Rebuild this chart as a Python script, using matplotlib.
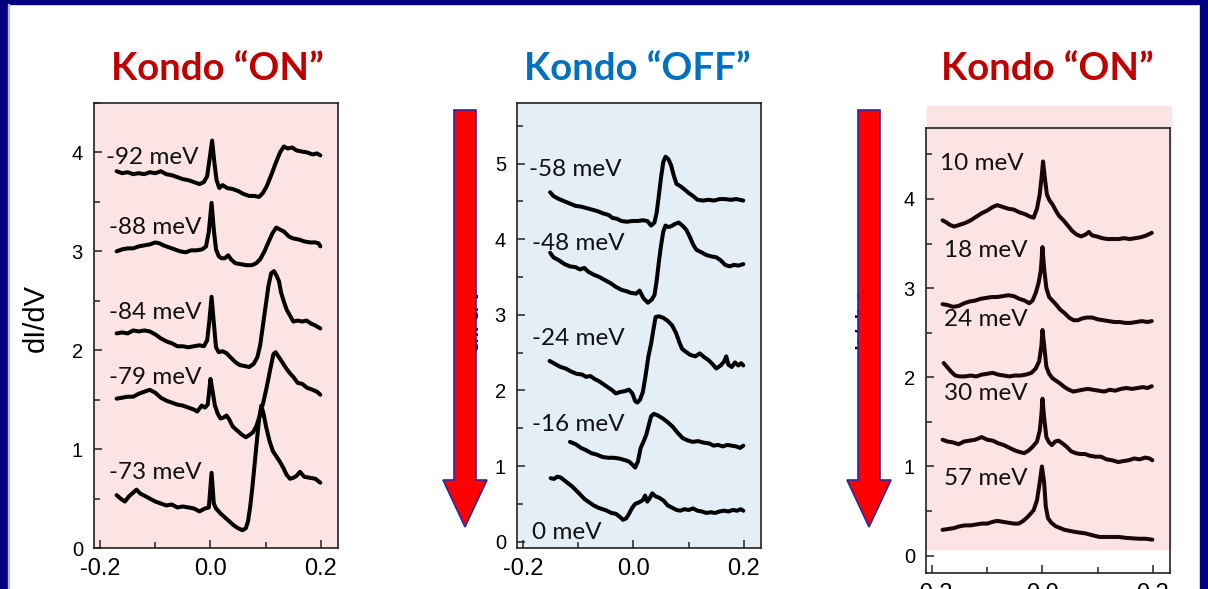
import matplotlib.pyplot as plt
from matplotlib.patches import Rectangle, Polygon

# ---- dI/dV spectra: (bias [V], dI/dV offset) ----
# left panel: Kondo "ON"
pts_m92 = [(-0.170, 3.81), (-0.160, 3.79), (-0.150, 3.80), (-0.140, 3.78), (-0.130, 3.79), (-0.120, 3.78),
           (-0.110, 3.80), (-0.100, 3.79), (-0.090, 3.81), (-0.080, 3.78), (-0.070, 3.77), (-0.060, 3.75),
           (-0.050, 3.73), (-0.040, 3.72), (-0.030, 3.70), (-0.020, 3.68), (-0.012, 3.70), (-0.006, 3.76),
           (-0.002, 3.92), (0.003, 4.12), (0.007, 3.90), (0.011, 3.72), (0.016, 3.64), (0.022, 3.67),
           (0.030, 3.64), (0.040, 3.63), (0.050, 3.61), (0.060, 3.58), (0.070, 3.56), (0.080, 3.56),
           (0.088, 3.55), (0.095, 3.59), (0.102, 3.66), (0.110, 3.77), (0.118, 3.89), (0.126, 4.00),
           (0.133, 4.06), (0.140, 4.04), (0.148, 4.05), (0.156, 4.02), (0.165, 4.01), (0.175, 4.00),
           (0.185, 3.98), (0.193, 3.99), (0.199, 3.97)]

pts_m88 = [(-0.170, 3.00), (-0.160, 3.02), (-0.150, 3.03), (-0.140, 3.03), (-0.130, 3.05), (-0.120, 3.06),
           (-0.110, 3.07), (-0.100, 3.09), (-0.092, 3.08), (-0.085, 3.06), (-0.075, 3.04), (-0.065, 3.02),
           (-0.055, 3.00), (-0.045, 2.99), (-0.035, 3.01), (-0.025, 3.01), (-0.015, 3.02), (-0.008, 3.05),
           (-0.003, 3.20), (0.002, 3.49), (0.006, 3.22), (0.010, 3.02), (0.015, 2.95), (0.020, 2.93),
           (0.026, 2.93), (0.032, 2.96), (0.037, 2.92), (0.045, 2.88), (0.055, 2.87), (0.065, 2.86),
           (0.075, 2.86), (0.083, 2.88), (0.090, 2.92), (0.097, 2.99), (0.104, 3.08), (0.112, 3.18),
           (0.119, 3.24), (0.126, 3.22), (0.133, 3.20), (0.142, 3.15), (0.150, 3.13), (0.160, 3.12),
           (0.170, 3.10), (0.180, 3.09), (0.190, 3.09), (0.196, 3.08), (0.199, 3.05)]

pts_m84 = [(-0.170, 2.17), (-0.160, 2.18), (-0.150, 2.17), (-0.140, 2.20), (-0.130, 2.19), (-0.120, 2.20),
           (-0.110, 2.19), (-0.100, 2.16), (-0.090, 2.12), (-0.080, 2.09), (-0.070, 2.07), (-0.060, 2.04),
           (-0.050, 2.04), (-0.040, 2.03), (-0.030, 2.04), (-0.020, 2.05), (-0.012, 2.04), (-0.006, 2.10),
           (-0.002, 2.30), (0.002, 2.54), (0.006, 2.28), (0.010, 2.03), (0.015, 1.98), (0.022, 1.99),
           (0.029, 1.97), (0.036, 1.93), (0.045, 1.88), (0.053, 1.85), (0.062, 1.84), (0.070, 1.83),
           (0.078, 1.86), (0.085, 1.93), (0.090, 2.05), (0.095, 2.25), (0.100, 2.45), (0.105, 2.65),
           (0.110, 2.78), (0.115, 2.80), (0.120, 2.75), (0.124, 2.70), (0.128, 2.58), (0.133, 2.49),
           (0.138, 2.41), (0.144, 2.35), (0.150, 2.29), (0.158, 2.30), (0.166, 2.29), (0.174, 2.30),
           (0.182, 2.27), (0.190, 2.25), (0.199, 2.22)]

pts_m79 = [(-0.170, 1.51), (-0.160, 1.52), (-0.150, 1.53), (-0.140, 1.53), (-0.130, 1.56), (-0.120, 1.58),
           (-0.110, 1.60), (-0.100, 1.57), (-0.090, 1.52), (-0.080, 1.49), (-0.070, 1.47), (-0.060, 1.45),
           (-0.050, 1.44), (-0.040, 1.42), (-0.030, 1.40), (-0.024, 1.38), (-0.016, 1.44), (-0.010, 1.42),
           (-0.005, 1.45), (0.000, 1.71), (0.004, 1.58), (0.008, 1.44), (0.013, 1.36), (0.018, 1.31),
           (0.024, 1.32), (0.029, 1.34), (0.034, 1.30), (0.040, 1.23), (0.048, 1.19), (0.056, 1.15),
           (0.064, 1.12), (0.070, 1.14), (0.077, 1.17), (0.083, 1.23), (0.090, 1.35), (0.096, 1.48),
           (0.102, 1.63), (0.108, 1.80), (0.114, 1.96), (0.118, 1.98), (0.124, 1.93), (0.131, 1.87),
           (0.138, 1.81), (0.145, 1.76), (0.150, 1.73), (0.158, 1.67), (0.166, 1.66), (0.175, 1.62),
           (0.185, 1.60), (0.193, 1.58), (0.199, 1.55)]

pts_m73 = [(-0.170, 0.535), (-0.163, 0.50), (-0.155, 0.47), (-0.148, 0.52), (-0.140, 0.56), (-0.134, 0.59),
           (-0.127, 0.55), (-0.120, 0.53), (-0.110, 0.50), (-0.100, 0.47), (-0.090, 0.45), (-0.080, 0.43),
           (-0.070, 0.44), (-0.060, 0.41), (-0.050, 0.42), (-0.040, 0.41), (-0.030, 0.40), (-0.020, 0.37),
           (-0.010, 0.40), (-0.003, 0.41), (0.002, 0.76), (0.006, 0.45), (0.010, 0.40), (0.018, 0.35),
           (0.026, 0.31), (0.034, 0.27), (0.042, 0.23), (0.050, 0.20), (0.058, 0.18), (0.064, 0.20),
           (0.068, 0.27), (0.072, 0.42), (0.076, 0.62), (0.080, 0.85), (0.084, 1.08), (0.088, 1.30),
           (0.092, 1.44), (0.096, 1.36), (0.101, 1.22), (0.107, 1.08), (0.113, 0.98), (0.120, 0.92),
           (0.126, 0.87), (0.132, 0.81), (0.138, 0.74), (0.144, 0.70), (0.150, 0.71), (0.156, 0.73),
           (0.162, 0.77), (0.170, 0.72), (0.180, 0.71), (0.190, 0.70), (0.199, 0.66)]

# middle panel: Kondo "OFF"
pts_m58 = [(-0.151, 4.62), (-0.145, 4.57), (-0.135, 4.53), (-0.125, 4.50), (-0.115, 4.47), (-0.105, 4.44),
           (-0.095, 4.43), (-0.085, 4.41), (-0.075, 4.39), (-0.065, 4.37), (-0.055, 4.34), (-0.045, 4.32),
           (-0.038, 4.28), (-0.030, 4.27), (-0.022, 4.24), (-0.012, 4.23), (-0.002, 4.24), (0.008, 4.24),
           (0.017, 4.25), (0.025, 4.24), (0.032, 4.18), (0.038, 4.22), (0.042, 4.35), (0.046, 4.58),
           (0.050, 4.82), (0.054, 5.02), (0.058, 5.09), (0.063, 5.06), (0.068, 4.98), (0.073, 4.84),
           (0.078, 4.73), (0.085, 4.70), (0.092, 4.66), (0.100, 4.61), (0.108, 4.57), (0.116, 4.52),
           (0.126, 4.51), (0.136, 4.52), (0.146, 4.51), (0.156, 4.53), (0.166, 4.53), (0.176, 4.52),
           (0.186, 4.53), (0.193, 4.52), (0.199, 4.51)]

pts_m48 = [(-0.151, 3.82), (-0.145, 3.76), (-0.135, 3.72), (-0.125, 3.67), (-0.115, 3.64), (-0.105, 3.63),
           (-0.097, 3.60), (-0.089, 3.62), (-0.082, 3.57), (-0.072, 3.53), (-0.062, 3.50), (-0.052, 3.46),
           (-0.042, 3.42), (-0.032, 3.37), (-0.022, 3.33), (-0.012, 3.31), (-0.005, 3.29), (0.005, 3.28),
           (0.011, 3.32), (0.018, 3.22), (0.026, 3.16), (0.033, 3.20), (0.038, 3.26), (0.042, 3.45),
           (0.046, 3.70), (0.050, 3.92), (0.054, 4.10), (0.058, 4.18), (0.063, 4.16), (0.068, 4.17),
           (0.075, 4.20), (0.082, 4.22), (0.090, 4.17), (0.096, 4.12), (0.102, 4.03), (0.108, 3.93),
           (0.114, 3.86), (0.122, 3.83), (0.132, 3.79), (0.142, 3.77), (0.150, 3.76), (0.158, 3.72),
           (0.166, 3.66), (0.174, 3.64), (0.182, 3.66), (0.190, 3.65), (0.199, 3.67)]

pts_m24 = [(-0.152, 2.39), (-0.142, 2.35), (-0.132, 2.31), (-0.123, 2.29), (-0.113, 2.25), (-0.103, 2.22),
           (-0.093, 2.21), (-0.086, 2.18), (-0.078, 2.19), (-0.070, 2.15), (-0.062, 2.12), (-0.054, 2.08),
           (-0.046, 2.04), (-0.038, 2.00), (-0.032, 1.96), (-0.024, 1.98), (-0.016, 1.99), (-0.008, 2.01),
           (-0.002, 1.96), (0.003, 1.86), (0.007, 1.84), (0.012, 1.88), (0.017, 1.98), (0.022, 2.20),
           (0.027, 2.45), (0.032, 2.62), (0.036, 2.80), (0.040, 2.97), (0.046, 2.98), (0.054, 2.96),
           (0.062, 2.92), (0.070, 2.86), (0.077, 2.76), (0.083, 2.64), (0.088, 2.55), (0.095, 2.51),
           (0.103, 2.47), (0.112, 2.45), (0.120, 2.49), (0.128, 2.44), (0.136, 2.40), (0.143, 2.35),
           (0.150, 2.29), (0.158, 2.33), (0.164, 2.38), (0.168, 2.45), (0.172, 2.34), (0.178, 2.31),
           (0.184, 2.37), (0.190, 2.33), (0.195, 2.36), (0.199, 2.33)]

pts_m16 = [(-0.115, 1.32), (-0.105, 1.29), (-0.095, 1.24), (-0.086, 1.21), (-0.076, 1.17), (-0.066, 1.15),
           (-0.056, 1.12), (-0.046, 1.11), (-0.036, 1.11), (-0.026, 1.10), (-0.016, 1.08), (-0.008, 1.06),
           (-0.002, 1.02), (0.003, 0.98), (0.008, 1.06), (0.013, 1.24), (0.018, 1.32), (0.023, 1.41),
           (0.028, 1.55), (0.032, 1.66), (0.037, 1.69), (0.044, 1.67), (0.053, 1.63), (0.062, 1.58),
           (0.071, 1.52), (0.080, 1.44), (0.089, 1.37), (0.098, 1.34), (0.107, 1.32), (0.117, 1.33),
           (0.127, 1.31), (0.137, 1.30), (0.145, 1.27), (0.153, 1.28), (0.162, 1.26), (0.170, 1.28),
           (0.178, 1.27), (0.186, 1.26), (0.193, 1.24), (0.199, 1.27)]

pts_0 = [(-0.150, 0.84), (-0.144, 0.83), (-0.138, 0.86), (-0.132, 0.85), (-0.125, 0.81), (-0.118, 0.77),
         (-0.111, 0.73), (-0.104, 0.68), (-0.096, 0.62), (-0.088, 0.56), (-0.080, 0.52), (-0.072, 0.48),
         (-0.064, 0.45), (-0.056, 0.43), (-0.048, 0.41), (-0.040, 0.38), (-0.032, 0.37), (-0.025, 0.33),
         (-0.019, 0.29), (-0.013, 0.31), (-0.008, 0.37), (-0.003, 0.44), (0.003, 0.50), (0.010, 0.52),
         (0.017, 0.55), (0.021, 0.61), (0.025, 0.53), (0.029, 0.57), (0.034, 0.64), (0.040, 0.60),
         (0.047, 0.58), (0.055, 0.54), (0.062, 0.48), (0.070, 0.45), (0.078, 0.42), (0.085, 0.41),
         (0.092, 0.43), (0.100, 0.42), (0.108, 0.44), (0.116, 0.41), (0.124, 0.40), (0.132, 0.38),
         (0.140, 0.39), (0.148, 0.38), (0.156, 0.40), (0.164, 0.41), (0.172, 0.40), (0.180, 0.42),
         (0.188, 0.41), (0.194, 0.43), (0.199, 0.41)]

# right panel: Kondo "ON" again
pts_p10 = [(-0.181, 3.76), (-0.175, 3.74), (-0.168, 3.71), (-0.160, 3.69), (-0.150, 3.71), (-0.140, 3.73),
           (-0.130, 3.76), (-0.120, 3.80), (-0.110, 3.84), (-0.100, 3.87), (-0.090, 3.91), (-0.082, 3.93),
           (-0.072, 3.91), (-0.062, 3.89), (-0.052, 3.88), (-0.042, 3.85), (-0.032, 3.83), (-0.022, 3.80),
           (-0.016, 3.79), (-0.010, 3.89), (-0.005, 4.05), (-0.001, 4.28), (0.001, 4.42), (0.004, 4.25),
           (0.008, 4.05), (0.013, 3.98), (0.018, 3.94), (0.024, 3.87), (0.030, 3.81), (0.038, 3.76),
           (0.046, 3.70), (0.054, 3.64), (0.062, 3.60), (0.070, 3.58), (0.078, 3.60), (0.084, 3.63),
           (0.090, 3.59), (0.098, 3.58), (0.108, 3.56), (0.118, 3.55), (0.128, 3.55), (0.138, 3.55),
           (0.148, 3.56), (0.158, 3.55), (0.168, 3.56), (0.178, 3.57), (0.188, 3.59), (0.198, 3.62)]

pts_p18 = [(-0.181, 2.82), (-0.172, 2.81), (-0.162, 2.79), (-0.152, 2.80), (-0.142, 2.83), (-0.132, 2.85),
           (-0.122, 2.86), (-0.112, 2.88), (-0.102, 2.89), (-0.092, 2.90), (-0.082, 2.90), (-0.072, 2.91),
           (-0.062, 2.92), (-0.052, 2.91), (-0.042, 2.88), (-0.032, 2.86), (-0.024, 2.83), (-0.018, 2.86),
           (-0.012, 2.95), (-0.007, 3.06), (-0.003, 3.20), (0.000, 3.46), (0.003, 3.22), (0.007, 3.00),
           (0.012, 2.90), (0.018, 2.86), (0.024, 2.82), (0.032, 2.76), (0.040, 2.72), (0.048, 2.67),
           (0.056, 2.64), (0.064, 2.64), (0.072, 2.66), (0.080, 2.67), (0.090, 2.67), (0.100, 2.65),
           (0.110, 2.64), (0.120, 2.63), (0.130, 2.62), (0.140, 2.62), (0.150, 2.61), (0.160, 2.61),
           (0.170, 2.62), (0.180, 2.63), (0.190, 2.62), (0.198, 2.63)]

pts_p24 = [(-0.179, 2.16), (-0.172, 2.11), (-0.165, 2.06), (-0.158, 2.02), (-0.150, 2.01), (-0.140, 2.01),
           (-0.130, 2.02), (-0.120, 2.01), (-0.110, 2.03), (-0.100, 2.04), (-0.090, 2.05), (-0.080, 2.03),
           (-0.070, 2.02), (-0.060, 2.01), (-0.050, 2.02), (-0.040, 2.02), (-0.030, 2.03), (-0.020, 2.05),
           (-0.012, 2.10), (-0.006, 2.18), (-0.002, 2.35), (0.000, 2.53), (0.003, 2.36), (0.007, 2.12),
           (0.012, 2.04), (0.018, 1.99), (0.025, 1.96), (0.032, 1.93), (0.040, 1.89), (0.048, 1.86),
           (0.056, 1.84), (0.064, 1.85), (0.072, 1.86), (0.082, 1.87), (0.092, 1.86), (0.102, 1.85),
           (0.112, 1.84), (0.122, 1.86), (0.132, 1.85), (0.142, 1.87), (0.152, 1.88), (0.162, 1.87),
           (0.172, 1.88), (0.182, 1.89), (0.190, 1.88), (0.198, 1.90)]

pts_p30 = [(-0.181, 1.30), (-0.172, 1.28), (-0.162, 1.27), (-0.152, 1.25), (-0.142, 1.28), (-0.132, 1.29),
           (-0.122, 1.30), (-0.110, 1.33), (-0.100, 1.30), (-0.090, 1.29), (-0.080, 1.26), (-0.070, 1.24),
           (-0.060, 1.21), (-0.050, 1.18), (-0.040, 1.16), (-0.033, 1.15), (-0.025, 1.18), (-0.018, 1.22),
           (-0.010, 1.28), (-0.005, 1.40), (-0.002, 1.58), (0.000, 1.76), (0.003, 1.55), (0.007, 1.33),
           (0.012, 1.27), (0.017, 1.24), (0.023, 1.28), (0.029, 1.29), (0.036, 1.26), (0.044, 1.22),
           (0.052, 1.17), (0.060, 1.15), (0.068, 1.14), (0.077, 1.14), (0.086, 1.12), (0.096, 1.11),
           (0.106, 1.11), (0.116, 1.08), (0.126, 1.07), (0.137, 1.05), (0.146, 1.06), (0.156, 1.07),
           (0.166, 1.09), (0.176, 1.08), (0.186, 1.10), (0.194, 1.09), (0.199, 1.07)]

pts_p57 = [(-0.181, 0.29), (-0.170, 0.30), (-0.160, 0.31), (-0.150, 0.33), (-0.140, 0.34), (-0.130, 0.34),
           (-0.120, 0.35), (-0.110, 0.36), (-0.100, 0.36), (-0.090, 0.38), (-0.082, 0.39), (-0.072, 0.38),
           (-0.062, 0.37), (-0.052, 0.36), (-0.043, 0.36), (-0.035, 0.39), (-0.026, 0.44), (-0.016, 0.51),
           (-0.010, 0.62), (-0.005, 0.82), (-0.001, 1.00), (0.003, 0.82), (0.006, 0.55), (0.010, 0.42),
           (0.016, 0.37), (0.024, 0.33), (0.032, 0.31), (0.040, 0.29), (0.048, 0.28), (0.056, 0.27),
           (0.066, 0.26), (0.078, 0.25), (0.090, 0.23), (0.103, 0.21), (0.115, 0.21), (0.127, 0.21),
           (0.139, 0.21), (0.151, 0.20), (0.163, 0.195), (0.175, 0.19), (0.187, 0.19), (0.199, 0.18)]

labels_left = ["-92 meV", "-88 meV", "-84 meV", "-79 meV", "-73 meV"]
labels_mid = ["-58 meV", "-48 meV", "-24 meV", "-16 meV", "0 meV"]
labels_right = ["10 meV", "18 meV", "24 meV", "30 meV", "57 meV"]

# label anchors (x, baseline y) in data units
lab_x_left = [-0.190, -0.184, -0.184, -0.184, -0.184]
lab_y_left = [3.88, 3.18, 2.32, 1.66, 0.70]
lab_x_mid = [-0.189, -0.183, -0.183, -0.183, -0.183]
lab_y_mid = [4.84, 3.86, 2.60, 1.47, 0.04]
lab_x_right = [-0.185, -0.179, -0.179, -0.179, -0.179]
lab_y_right = [4.32, 3.35, 2.58, 1.74, 0.79]

PINK = "#fde4e4"
BLUE_BG = "#e4eef7"
NAVY = "#000080"

W, H = 1208, 589
fig = plt.figure(figsize=(W / 100, H / 100), dpi=100, facecolor="white")

# slide frame
fig.patches.append(Rectangle((0, 0), 8 / W, 1, transform=fig.transFigure, color=NAVY, zorder=0))
fig.patches.append(Rectangle((1 - 8 / W, 0), 8 / W, 1, transform=fig.transFigure, color=NAVY, zorder=0))
fig.patches.append(Rectangle((0, 1 - 4 / H), 1, 4 / H, transform=fig.transFigure, color=NAVY, zorder=0))
fig.patches.append(Rectangle((8 / W, 0), 1.2 / W, 1 - 4 / H, transform=fig.transFigure,
                             color="#b8b8e8", zorder=0))


def style_axes(ax, ylim, yticks, ylabel_x, ylabel_y):
    ax.set_xlim(-0.211, 0.231)
    ax.set_ylim(*ylim)
    ax.set_xticks([-0.2, 0.0, 0.2])
    ax.set_xticklabels(["-0.2", "0.0", "0.2"])
    ax.set_xticks([-0.1, 0.1], minor=True)
    ax.set_yticks(yticks)
    ax.set_yticks([t + 0.5 for t in yticks], minor=True)
    ax.tick_params(axis="both", which="both", direction="in", color="#222222", width=1.1)
    ax.tick_params(axis="both", which="major", length=6)
    ax.tick_params(axis="both", which="minor", length=4)
    ax.tick_params(axis="x", which="major", pad=7, labelsize=17)
    ax.tick_params(axis="y", which="major", pad=8, labelsize=14.5)
    for lab in ax.get_xticklabels() + ax.get_yticklabels():
        lab.set_family("Liberation Sans")
    for sp in ax.spines.values():
        sp.set_linewidth(1.2)
        sp.set_color("#222222")
    ax.set_ylabel("dI/dV", fontsize=21, family="Liberation Sans")
    ax.yaxis.set_label_coords(ylabel_x, ylabel_y)


def draw_curves(ax, curves, color, labs, lx, ly):
    for pts in curves:
        v, g = zip(*pts)
        ax.plot(v, g, color=color, lw=2.9, solid_joinstyle="round", solid_capstyle="round")
    for t, x, y in zip(labs, lx, ly):
        ax.text(x, y, t, fontsize=17.5, family="Lato", color="#111111", ha="left", va="baseline")


# left panel
ax1 = fig.add_axes([94 / W, 41 / H, 244 / W, 445 / H], facecolor=PINK)
style_axes(ax1, (0, 4.49), [0, 1, 2, 3, 4], -0.18, 0.517)
draw_curves(ax1, [pts_m92, pts_m88, pts_m84, pts_m79, pts_m73],
            "black", labels_left, lab_x_left, lab_y_left)

# middle panel
ax2 = fig.add_axes([517 / W, 41 / H, 244 / W, 445 / H], facecolor=BLUE_BG)
style_axes(ax2, (-0.083, 5.80), [0, 1, 2, 3, 4, 5], -0.138, 0.517)
draw_curves(ax2, [pts_m58, pts_m48, pts_m24, pts_m16, pts_0],
            "black", labels_mid, lab_x_mid, lab_y_mid)

# right panel (shaded block sits slightly above the frame)
ax3 = fig.add_axes([926 / W, 16 / H, 244 / W, 445 / H])
ax3.patch.set_alpha(0)
ax3.add_patch(Rectangle((927 / W, 40 / H), 244 / W, 443 / H, transform=fig.transFigure,
                        color=PINK, zorder=0, clip_on=False))
style_axes(ax3, (-0.194, 4.795), [0, 1, 2, 3, 4], -0.176, 0.557)
draw_curves(ax3, [pts_p10, pts_p18, pts_p24, pts_p30, pts_p57],
            "#1a0808", labels_right, lab_x_right, lab_y_right)

# titles
title_kw = dict(fontsize=27.5, family="Lato", fontweight="bold", ha="center", va="baseline")
fig.text(217 / W, 1 - 80 / H, "Kondo \u201cON\u201d", color="#c00000", **title_kw)
fig.text(637 / W, 1 - 80 / H, "Kondo \u201cOFF\u201d", color="#0070c0", **title_kw)
fig.text(1047 / W, 1 - 80 / H, "Kondo \u201cON\u201d", color="#c00000", **title_kw)

# downward arrows between panels, drawn over everything in pixel space
over = fig.add_axes([0, 0, 1, 1], zorder=10)
over.set_xlim(0, W)
over.set_ylim(H, 0)
over.axis("off")
over.patch.set_alpha(0)
for cx in (465, 869):
    outline = [(cx - 11, 110), (cx + 11, 110), (cx + 11, 480), (cx + 22, 480),
               (cx, 527), (cx - 22, 480), (cx - 11, 480)]
    over.add_patch(Polygon(outline, closed=True, facecolor="#ff0000", edgecolor="#2a2aa0", lw=1.2))

fig.savefig("out.png", dpi=100)
